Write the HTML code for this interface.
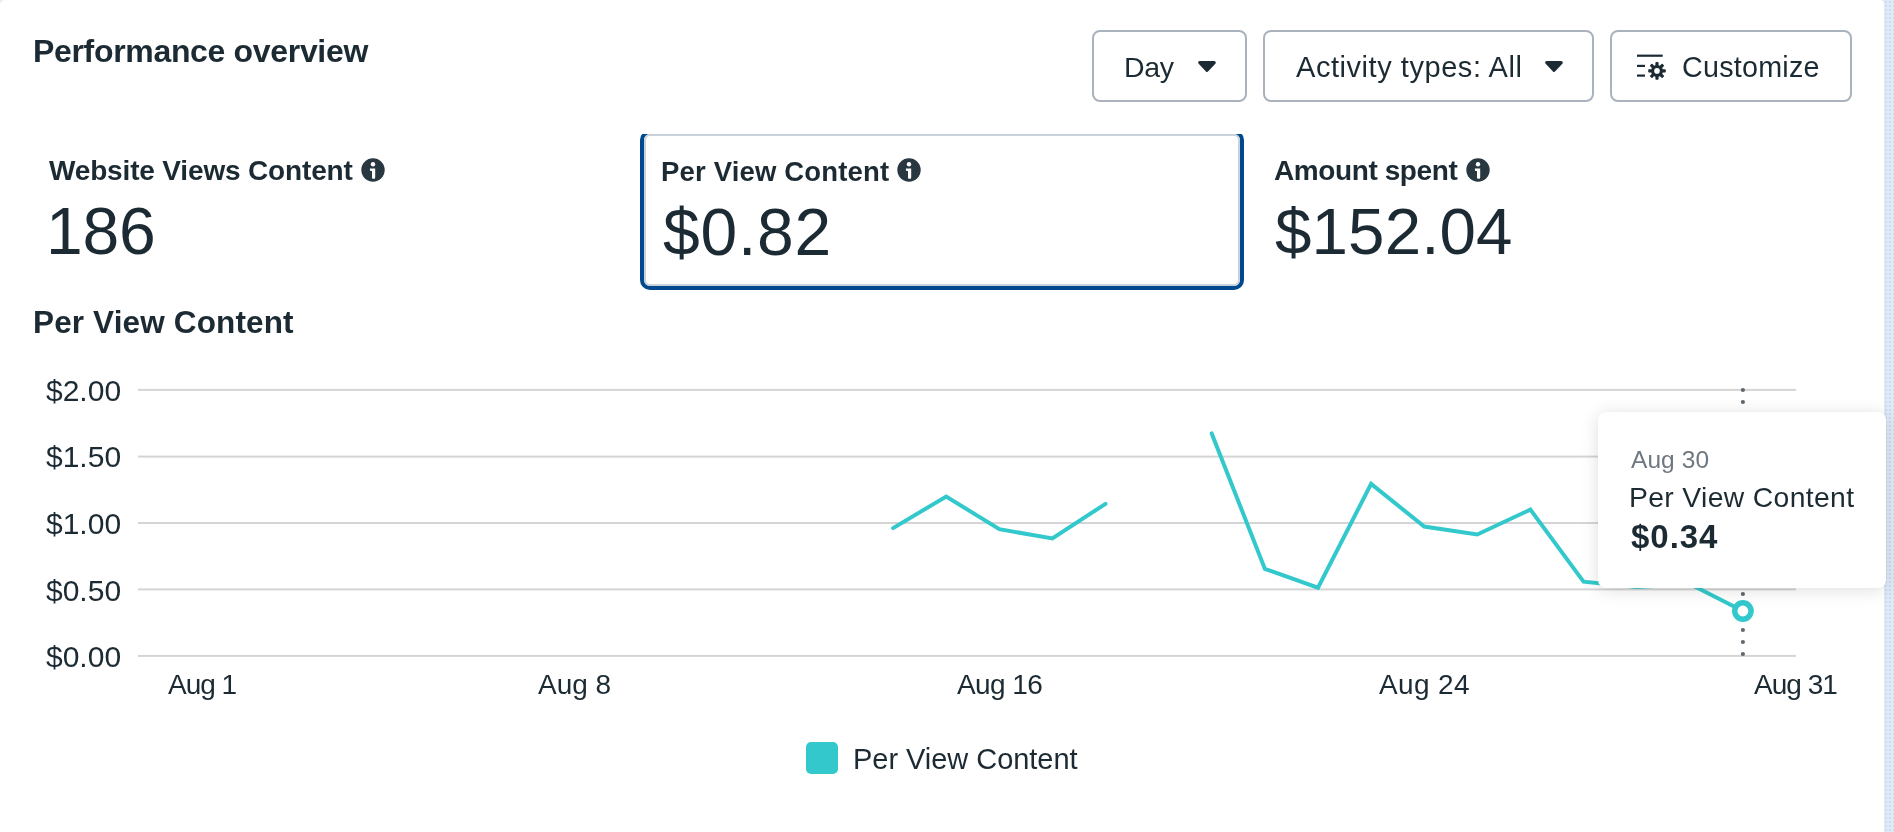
<!DOCTYPE html>
<html><head><meta charset="utf-8">
<style>
html,body{margin:0;padding:0;}
body{width:1894px;height:832px;position:relative;overflow:hidden;background:#ececec;font-family:"Liberation Sans",sans-serif;color:#1c2b33;}
.card{position:absolute;left:0;top:0;width:1884px;height:832px;background:#fff;border-top-left-radius:5px;border-top-right-radius:4px;}
.t{position:absolute;white-space:nowrap;line-height:1;will-change:transform;}
.btn{position:absolute;box-sizing:border-box;border:2px solid #a9b2bd;border-radius:8px;}
.sel{position:absolute;left:640px;top:130px;width:604px;height:160px;box-sizing:border-box;border:4px solid #01498f;border-radius:10px;}
.sel:before{content:"";position:absolute;left:0;top:0;right:0;bottom:0;border:2px solid #c9d1da;border-radius:6px;}
.clip{position:absolute;left:630px;top:110px;width:620px;height:24px;background:#fff;}
.tip{position:absolute;left:1597.7px;top:412.1px;width:288.6px;height:175.8px;background:#fff;border-radius:8px;box-shadow:0 2px 18px rgba(0,0,0,0.13),0 0 2px rgba(0,0,0,0.06);}
.sw{position:absolute;left:806px;top:742px;width:32px;height:32px;border-radius:5px;background:#33c9cc;}
</style></head><body>
<div style="position:absolute;left:1880px;top:0;width:14px;height:832px;background-color:#dfeaf8;background-image:radial-gradient(circle,rgba(140,160,190,0.2) 0.7px,transparent 1.1px);background-size:4px 4px;"></div>
<div class="card"></div>
<div class="t" style="left:32.80px;top:35.01px;font-size:32px;letter-spacing:-0.327px;font-weight:700">Performance overview</div>
<div class="t" style="left:48.60px;top:157.09px;font-size:28px;letter-spacing:-0.160px;font-weight:700">Website Views Content</div>
<div class="t" style="left:660.90px;top:157.62px;font-size:27.5px;letter-spacing:0.167px;font-weight:700">Per View Content</div>
<div class="t" style="left:1273.50px;top:157.19px;font-size:28px;letter-spacing:-0.408px;font-weight:700">Amount spent</div>
<div class="t" style="left:45.50px;top:198.32px;font-size:66px;letter-spacing:-0.206px">186</div>
<div class="t" style="left:662.70px;top:198.62px;font-size:66px;letter-spacing:0.761px">$0.82</div>
<div class="t" style="left:1275.00px;top:199.04px;font-size:65.5px;letter-spacing:0.127px">$152.04</div>
<div class="t" style="left:32.60px;top:307.03px;font-size:31.5px;letter-spacing:0.141px;font-weight:700">Per View Content</div>
<div class="t" style="left:46.11px;top:375.80px;font-size:30px;letter-spacing:0.000px">$2.00</div>
<div class="t" style="left:46.11px;top:442.40px;font-size:30px;letter-spacing:0.000px">$1.50</div>
<div class="t" style="left:46.11px;top:509.10px;font-size:30px;letter-spacing:0.000px">$1.00</div>
<div class="t" style="left:46.11px;top:575.80px;font-size:30px;letter-spacing:0.000px">$0.50</div>
<div class="t" style="left:46.11px;top:641.80px;font-size:30px;letter-spacing:0.000px">$0.00</div>
<div class="t" style="left:168.30px;top:671.19px;font-size:28px;letter-spacing:-1.000px">Aug 1</div>
<div class="t" style="left:537.90px;top:671.19px;font-size:28px;letter-spacing:0.000px">Aug 8</div>
<div class="t" style="left:956.50px;top:671.19px;font-size:28px;letter-spacing:-0.574px">Aug 16</div>
<div class="t" style="left:1379.10px;top:671.19px;font-size:28px;letter-spacing:0.346px">Aug 24</div>
<div class="t" style="left:1754.40px;top:671.19px;font-size:28px;letter-spacing:-0.974px">Aug 31</div>
<div class="t" style="left:1124.40px;top:52.97px;font-size:28.5px;letter-spacing:-0.316px">Day</div>
<div class="t" style="left:1296.00px;top:52.75px;font-size:29px;letter-spacing:0.549px">Activity types: All</div>
<div class="t" style="left:1681.80px;top:52.70px;font-size:28.7px;letter-spacing:0.243px">Customize</div>
<div class="btn" style="left:1092px;top:30px;width:155px;height:72px"></div>
<div class="btn" style="left:1263px;top:30px;width:331px;height:72px"></div>
<div class="btn" style="left:1610px;top:30px;width:242px;height:72px"></div>
<svg style="position:absolute;left:0;top:0" width="1894" height="832">
<path d="M1199.9 62.6 L1214.1 62.6 L1207 70.2 Z" fill="#1c2b33" stroke="#1c2b33" stroke-width="3.4" stroke-linejoin="round"/>
<path d="M1546.9 62.6 L1561.1 62.6 L1554 70.2 Z" fill="#1c2b33" stroke="#1c2b33" stroke-width="3.4" stroke-linejoin="round"/>
<rect x="1637" y="54.6" width="25.7" height="2.2" fill="#1c2b33"/>
<rect x="1637" y="64.8" width="8" height="2.2" fill="#1c2b33"/>
<rect x="1637" y="74.5" width="8" height="2.2" fill="#1c2b33"/>
<g transform="translate(1657,70.9)">
<circle r="6" fill="#1c2b33"/>
<g fill="#1c2b33">
<rect x="-1.6" y="-8.8" width="3.2" height="17.6" rx="0.8"/>
<rect x="-1.6" y="-8.8" width="3.2" height="17.6" rx="0.8" transform="rotate(45)"/>
<rect x="-1.6" y="-8.8" width="3.2" height="17.6" rx="0.8" transform="rotate(90)"/>
<rect x="-1.6" y="-8.8" width="3.2" height="17.6" rx="0.8" transform="rotate(135)"/>
</g>
<circle r="2.8" fill="#fff"/>
</g>
</svg>
<svg style="position:absolute;left:360.8px;top:157.7px" width="24" height="24" viewBox="0 0 24 24"><circle cx="12" cy="12" r="11.7" fill="#283740"/><circle cx="12" cy="6.3" r="2.2" fill="#fff"/><path d="M8.9 10.6 H14.2 V19.7 Q14.2 20.7 13.2 20.7 H12 Q11 20.7 11 19.7 V13 H9.9 Q8.9 13 8.9 12 Z" fill="#fff"/></svg>
<svg style="position:absolute;left:896.9px;top:157.8px" width="24" height="24" viewBox="0 0 24 24"><circle cx="12" cy="12" r="11.7" fill="#283740"/><circle cx="12" cy="6.3" r="2.2" fill="#fff"/><path d="M8.9 10.6 H14.2 V19.7 Q14.2 20.7 13.2 20.7 H12 Q11 20.7 11 19.7 V13 H9.9 Q8.9 13 8.9 12 Z" fill="#fff"/></svg>
<svg style="position:absolute;left:1465.8px;top:157.7px" width="24" height="24" viewBox="0 0 24 24"><circle cx="12" cy="12" r="11.7" fill="#283740"/><circle cx="12" cy="6.3" r="2.2" fill="#fff"/><path d="M8.9 10.6 H14.2 V19.7 Q14.2 20.7 13.2 20.7 H12 Q11 20.7 11 19.7 V13 H9.9 Q8.9 13 8.9 12 Z" fill="#fff"/></svg>
<div class="sel"></div>
<div class="clip"></div>
<svg style="position:absolute;left:0;top:0" width="1894" height="832">
<rect x="138" y="388.9" width="1658" height="2" fill="#d5d5d5"/>
<rect x="138" y="455.6" width="1658" height="2" fill="#d5d5d5"/>
<rect x="138" y="522.0" width="1658" height="2" fill="#d5d5d5"/>
<rect x="138" y="588.4" width="1658" height="2" fill="#d5d5d5"/>
<rect x="138" y="654.9" width="1658" height="2" fill="#d5d5d5"/>
<circle cx="1742.9" cy="390" r="2.1" fill="#5f6770"/>
<circle cx="1742.9" cy="402" r="2.1" fill="#5f6770"/>
<circle cx="1742.9" cy="414" r="2.1" fill="#5f6770"/>
<circle cx="1742.9" cy="426" r="2.1" fill="#5f6770"/>
<circle cx="1742.9" cy="438" r="2.1" fill="#5f6770"/>
<circle cx="1742.9" cy="450" r="2.1" fill="#5f6770"/>
<circle cx="1742.9" cy="462" r="2.1" fill="#5f6770"/>
<circle cx="1742.9" cy="474" r="2.1" fill="#5f6770"/>
<circle cx="1742.9" cy="486" r="2.1" fill="#5f6770"/>
<circle cx="1742.9" cy="498" r="2.1" fill="#5f6770"/>
<circle cx="1742.9" cy="510" r="2.1" fill="#5f6770"/>
<circle cx="1742.9" cy="522" r="2.1" fill="#5f6770"/>
<circle cx="1742.9" cy="534" r="2.1" fill="#5f6770"/>
<circle cx="1742.9" cy="546" r="2.1" fill="#5f6770"/>
<circle cx="1742.9" cy="558" r="2.1" fill="#5f6770"/>
<circle cx="1742.9" cy="570" r="2.1" fill="#5f6770"/>
<circle cx="1742.9" cy="582" r="2.1" fill="#5f6770"/>
<circle cx="1742.9" cy="594" r="2.1" fill="#5f6770"/>
<circle cx="1742.9" cy="606" r="2.1" fill="#5f6770"/>
<circle cx="1742.9" cy="618" r="2.1" fill="#5f6770"/>
<circle cx="1742.9" cy="630" r="2.1" fill="#5f6770"/>
<circle cx="1742.9" cy="642" r="2.1" fill="#5f6770"/>
<circle cx="1742.9" cy="654" r="2.1" fill="#5f6770"/>
<polyline points="893.1,528.1 946.2,496.5 999.3,529.2 1052.4,538.5 1105.5,503.8" fill="none" stroke="#33c9cc" stroke-width="4" stroke-linejoin="miter" stroke-linecap="round"/>
<polyline points="1211.7,433.4 1264.9,568.9 1318.0,587.7 1371.1,483.9 1424.2,526.5 1477.3,534.5 1530.4,509.6 1583.5,581.7 1636.7,587.0 1689.8,584.0 1742.9,611.0" fill="none" stroke="#33c9cc" stroke-width="4" stroke-linejoin="miter" stroke-linecap="round"/>
<circle cx="1742.9" cy="611" r="8.15" fill="#fff" stroke="#33c9cc" stroke-width="5.5"/>
</svg>
<div class="tip"></div>
<div class="t" style="left:1630.70px;top:448.46px;font-size:24.5px;letter-spacing:0.075px;color:#6f7780">Aug 30</div>
<div class="t" style="left:1628.70px;top:482.94px;font-size:28.3px;letter-spacing:0.358px">Per View Content</div>
<div class="t" style="left:1630.70px;top:520.26px;font-size:33px;letter-spacing:0.968px;font-weight:700">$0.34</div>
<div class="sw"></div>
<div class="t" style="left:853.20px;top:744.75px;font-size:29px;letter-spacing:-0.039px">Per View Content</div>
</body></html>
